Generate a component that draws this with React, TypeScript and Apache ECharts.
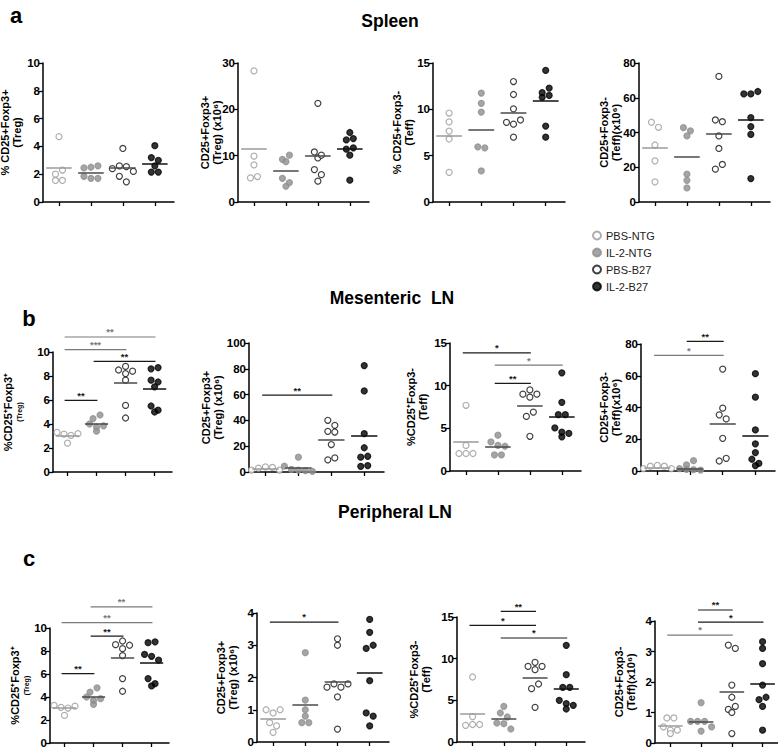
import React, { useEffect, useRef } from "react";
import * as echarts from "echarts";

const groups = ["PBS-NTG", "IL-2-NTG", "PBS-B27", "IL-2-B27"];

// ---- a: Spleen ----
const spleenTregPct = [
  [4.7, 2.0, 2.3, 1.55, 1.55],
  [2.45, 2.5, 2.6, 1.85, 1.7, 1.7],
  [3.85, 2.4, 2.6, 2.55, 2.2, 1.85, 1.45],
  [4.05, 3.2, 3.0, 2.6, 2.15, 2.15],
];
const spleenTregPctMean = [2.45, 2.12, 2.45, 2.77];

const spleenTregNum = [
  [28.3, 9.9, 8.0, 5.2, 5.5],
  [9.2, 8.7, 10.1, 5.1, 3.4, 4.2],
  [21.3, 10.8, 9.5, 10.1, 7.0, 5.9, 4.5],
  [15.0, 13.4, 13.7, 11.4, 11.7, 10.1, 4.7],
];
const spleenTregNumMean = [11.4, 6.7, 9.9, 11.4];

const spleenTeffPct = [
  [9.6, 8.65, 7.65, 6.8, 3.2],
  [11.75, 10.65, 9.7, 5.95, 5.85, 3.35],
  [13.0, 11.6, 10.05, 8.6, 8.4, 8.85, 7.0],
  [14.2, 11.8, 12.3, 11.3, 11.5, 8.2, 7.0],
];
const spleenTeffPctMean = [7.15, 7.84, 9.65, 10.9];

const spleenTeffNum = [
  [45.9, 43.0, 32.8, 23.7, 11.6],
  [42.8, 41.0, 38.0, 16.0, 12.5, 8.1],
  [72.3, 47.2, 46.2, 38.0, 30.8, 18.9, 21.6],
  [62.2, 62.2, 63.6, 48.6, 43.4, 38.9, 13.5],
];
const spleenTeffNumMean = [31.2, 26.0, 39.5, 47.2];

// ---- b: Mesenteric LN ----
const mlnTregPct = [
  [3.3, 3.15, 3.05, 3.2, 2.4],
  [4.0, 4.45, 4.75, 3.75, 3.85, 3.4],
  [8.5, 8.8, 8.4, 8.2, 7.65, 5.55, 4.5],
  [8.6, 8.7, 7.65, 7.5, 7.1, 5.5, 5.15, 5.0],
];
const mlnTregPctMean = [3.05, 4.05, 7.4, 6.95];
const mlnTregPctSig = [
  [1, 4, 11.25, "**", "gray"],
  [1, 3, 10.2, "***", "gray"],
  [2, 4, 9.22, "**", "dark"],
  [1, 2, 5.97, "**", "dark"],
];

const mlnTregNum = [
  [1.5, 3.0, 4.0, 3.5, 1.5],
  [11.5, 4.5, 2.0, 1.5, 1.0, 0.5],
  [40.1, 36.2, 31.5, 31.0, 21.3, 9.4, 10.9],
  [82.5, 62.8, 29.7, 18.8, 11.5, 12.2, 4.4, 5.0],
];
const mlnTregNumMean = [2.7, 3.1, 25.3, 27.9];
const mlnTregNumSig = [[1, 3, 59.6, "**", "dark"]];

const mlnTeffPct = [
  [7.7, 3.0, 2.05, 2.05, 2.05],
  [4.2, 3.4, 3.0, 2.9, 1.9, 1.9],
  [9.0, 9.5, 9.0, 8.65, 6.4, 6.9, 4.07],
  [11.5, 8.05, 6.6, 6.6, 5.05, 4.55, 4.4, 4.0],
];
const mlnTeffPctMean = [3.4, 2.8, 7.65, 6.3];
const mlnTeffPctSig = [
  [1, 3, 13.84, "*", "dark"],
  [2, 4, 12.4, "*", "gray"],
  [2, 3, 10.27, "**", "dark"],
];

const mlnTeffNum = [
  [1.5, 3.0, 3.5, 3.0, 1.5],
  [3.8, 6.5, 1.5, 1.0, 0.8, 0.6],
  [64.2, 39.6, 35.4, 32.8, 20.6, 6.3, 8.0],
  [61.3, 46.5, 25.9, 17.1, 11.6, 7.4, 3.4, 4.8],
];
const mlnTeffNumMean = [2.3, 1.7, 29.7, 22.1];
const mlnTeffNumSig = [
  [2, 3, 81.7, "**", "dark"],
  [1, 3, 72.8, "*", "gray"],
];

// ---- c: Peripheral LN ----
const plnTregPct = [
  [3.27, 3.1, 3.04, 3.2, 2.4],
  [4.0, 4.43, 4.8, 3.7, 3.85, 3.36],
  [8.55, 8.87, 8.5, 8.2, 7.6, 5.6, 4.5],
  [8.72, 8.8, 7.7, 7.54, 7.2, 5.6, 5.16, 4.96],
];
const plnTregPctMean = [3.04, 4.0, 7.4, 6.95];
const plnTregPctSig = [
  [2, 4, 11.83, "**", "gray"],
  [1, 4, 10.46, "**", "gray"],
  [2, 3, 9.3, "**", "dark"],
  [1, 2, 6.03, "**", "dark"],
];

const plnTregNum = [
  [1.0, 0.9, 1.0, 0.6, 0.5, 0.3],
  [2.77, 1.3, 1.0, 0.8, 0.6, 0.6],
  [3.2, 3.0, 1.7, 1.8, 1.7, 1.8, 1.4, 0.4],
  [3.8, 3.4, 2.9, 3.0, 1.9, 0.9, 0.8, 0.5],
];
const plnTregNumMean = [0.72, 1.17, 1.86, 2.15];
const plnTregNumSig = [[1, 3, 3.72, "*", "dark"]];

const plnTeffPct = [
  [7.8, 3.05, 2.0, 2.1, 2.1],
  [4.28, 3.48, 3.0, 2.28, 2.2, 1.56],
  [9.08, 9.56, 9.08, 8.68, 6.4, 6.96, 4.16],
  [11.6, 8.08, 6.56, 6.56, 5.0, 4.6, 4.4, 3.96],
];
const plnTeffPctMean = [3.4, 2.76, 7.72, 6.36];
const plnTeffPctSig = [
  [2, 3, 15.68, "**", "dark"],
  [1, 3, 14.0, "*", "dark"],
  [2, 4, 12.48, "*", "dark"],
];

const plnTeffNum = [
  [0.82, 0.82, 0.53, 0.42, 0.42, 0.31],
  [1.32, 0.71, 0.71, 0.71, 0.39, 0.53],
  [3.21, 3.1, 1.9, 1.5, 1.1, 1.2, 1.0, 0.31],
  [3.32, 3.1, 2.6, 1.9, 1.42, 1.5, 1.2, 0.42],
];
const plnTeffNumMean = [0.56, 0.71, 1.68, 1.93];
const plnTeffNumSig = [
  [2, 3, 4.36, "**", "dark"],
  [2, 4, 3.96, "*", "dark"],
  [1, 3, 3.54, "*", "gray"],
];

const FONT = 'Arial, "Liberation Sans", sans-serif';

const panels = [
  { values: spleenTregPct, means: spleenTregPctMean, sig: [], left: 43, top: 63, width: 131, height: 139, max: 10, interval: 2, name: "% CD25+Foxp3+\n(Treg)", nameGap: 20 },
  { values: spleenTregNum, means: spleenTregNumMean, sig: [], left: 238, top: 63, width: 131, height: 139, max: 30, interval: 10, name: "CD25+Foxp3+\n(Treg) (x10⁶)", nameGap: 15 },
  { values: spleenTeffPct, means: spleenTeffPctMean, sig: [], left: 433, top: 63, width: 132, height: 139, max: 15, interval: 5, name: "% CD25+Foxp3-\n(Teff)", nameGap: 18 },
  { values: spleenTeffNum, means: spleenTeffNumMean, sig: [], left: 639, top: 63, width: 131, height: 139, max: 80, interval: 20, name: "CD25+Foxp3-\n(Teff)(x10⁶)", nameGap: 17 },
  { values: mlnTregPct, means: mlnTregPctMean, sig: mlnTregPctSig, left: 53, top: 352, width: 119, height: 120, max: 10, interval: 2, name: "%CD25⁺Foxp3⁺\n{s|(Treg)}", nameGap: 29 },
  { values: mlnTregNum, means: mlnTregNumMean, sig: mlnTregNumSig, left: 249, top: 343, width: 135, height: 129, max: 100, interval: 20, name: "CD25+Foxp3+\n(Treg) (x10⁶)", nameGap: 25 },
  { values: mlnTeffPct, means: mlnTeffPctMean, sig: mlnTeffPctSig, left: 450, top: 343, width: 131, height: 128, max: 15, interval: 5, name: "%CD25⁺Foxp3-\n(Teff)", nameGap: 21 },
  { values: mlnTeffNum, means: mlnTeffNumMean, sig: mlnTeffNumSig, left: 641, top: 344, width: 134, height: 127, max: 80, interval: 20, name: "CD25+Foxp3-\n(Teff)(x10⁶)", nameGap: 19 },
  { values: plnTregPct, means: plnTregPctMean, sig: plnTregPctSig, left: 50, top: 628, width: 119, height: 115, max: 10, interval: 2, name: "%CD25⁺Foxp3⁺\n{s|(Treg)}", nameGap: 19 },
  { values: plnTregNum, means: plnTregNumMean, sig: plnTregNumSig, left: 257, top: 613, width: 132, height: 129, max: 4, interval: 1, name: "CD25+Foxp3+\n(Treg) (x10⁶)", nameGap: 18 },
  { values: plnTeffPct, means: plnTeffPctMean, sig: plnTeffPctSig, left: 457, top: 617, width: 128, height: 125, max: 15, interval: 5, name: "%CD25⁺Foxp3-\n(Teff)", nameGap: 25 },
  { values: plnTeffNum, means: plnTeffNumMean, sig: plnTeffNumSig, left: 655, top: 621, width: 126, height: 122, max: 4, interval: 1, name: "CD25+Foxp3-\n(Teff)(x10⁶)", nameGap: 18 },
];

const X_MIN = 0.5;
const X_MAX = 4.6;

const groupStyle = [
  { color: "#ffffff", borderColor: "#9a9a9a", borderWidth: 1.2 },
  { color: "#8f8f8f", borderColor: "#8f8f8f", borderWidth: 1.2 },
  { color: "#ffffff", borderColor: "#111111", borderWidth: 1.2 },
  { color: "#000000", borderColor: "#000000", borderWidth: 1.2 },
];
const meanColor = ["#9a9a9a", "#4a4a4a", "#4a4a4a", "#111111"];
const toneColor: Record<string, string> = { dark: "#1a1a1a", gray: "#7a7a7a" };

// Prism-like row layout: points with nearby values share a row, spread around centre
function swarmOffsets(vals: number[], pxPerUnit: number, pxPerGroup: number, d = 7, thr = 6) {
  const idx = vals.map((_, i) => i).sort((a, b) => vals[b] - vals[a]);
  const rows: number[][] = [];
  let cur: number[] = [];
  let startY = 0;
  for (const i of idx) {
    const y = vals[i] * pxPerUnit;
    if (cur.length && startY - y < thr) cur.push(i);
    else {
      if (cur.length) rows.push(cur);
      cur = [i];
      startY = y;
    }
  }
  if (cur.length) rows.push(cur);
  const off = new Array(vals.length).fill(0);
  for (const r of rows) {
    r.sort((a, b) => a - b);
    r.forEach((i, k) => {
      off[i] = ((k - (r.length - 1) / 2) * d) / pxPerGroup;
    });
  }
  return off;
}

function buildOption() {
  const grid: any[] = [];
  const xAxis: any[] = [];
  const yAxis: any[] = [];
  const series: any[] = [];

  panels.forEach((p, pi) => {
    grid.push({ left: p.left, top: p.top, width: p.width, height: p.height, containLabel: false, outerBoundsMode: "none" });
    xAxis.push({
      type: "value",
      gridIndex: pi,
      min: X_MIN,
      max: X_MAX,
      axisLine: { show: true, onZero: false, lineStyle: { color: "#000", width: 1.5 } },
      axisTick: { show: true, length: 4, customValues: [1, 2, 3, 4], lineStyle: { color: "#000", width: 1.3 } },
      axisLabel: { show: false },
      splitLine: { show: false },
    });
    yAxis.push({
      type: "value",
      gridIndex: pi,
      min: 0,
      max: p.max,
      interval: p.interval,
      axisLine: { show: true, lineStyle: { color: "#000", width: 1.5 } },
      axisTick: { show: true, length: 4, lineStyle: { color: "#000", width: 1.3 } },
      axisLabel: { color: "#000", fontWeight: "bold", fontSize: 11.5, fontFamily: FONT, margin: 3 },
      splitLine: { show: false },
      name: p.name,
      nameLocation: "middle",
      nameGap: p.nameGap,
      nameMoveOverlap: false,
      nameTextStyle: {
        color: "#000",
        fontWeight: "bold",
        fontSize: 11,
        fontFamily: FONT,
        lineHeight: 12,
        rich: { s: { fontSize: 7, fontWeight: "bold", fontFamily: FONT, lineHeight: 10, color: "#000" } },
      },
    });

    const pxPerUnit = p.height / p.max;
    const pxPerGroup = p.width / (X_MAX - X_MIN);

    p.values.forEach((vals, g) => {
      const off = swarmOffsets(vals, pxPerUnit, pxPerGroup);
      series.push({
        type: "scatter",
        name: groups[g],
        xAxisIndex: pi,
        yAxisIndex: pi,
        symbol: "circle",
        symbolSize: 6,
        itemStyle: groupStyle[g],
        silent: true,
        data: vals.map((v, i) => [g + 1 + off[i], v]),
        markLine: {
          silent: true,
          symbol: ["none", "none"],
          label: { show: false },
          lineStyle: { color: meanColor[g], width: 1.5, type: "solid" },
          emphasis: { disabled: true },
          data: [[{ coord: [g + 1 - 0.4, p.means[g]] }, { coord: [g + 1 + 0.4, p.means[g]] }]],
        },
      });
    });

    (p.sig as any[]).forEach((b, bi) => {
      const [from, to, y, label, tone] = b;
      const x1 = from - 0.1;
      const x2 = to + 0.03;
      const col = toneColor[tone];
      series.push({
        type: "line",
        name: "sig-" + pi + "-" + bi,
        xAxisIndex: pi,
        yAxisIndex: pi,
        clip: false,
        symbol: "none",
        silent: true,
        color: col,
        lineStyle: { color: col, width: 1.2 },
        data: [
          [x1, y],
          [x2, y],
        ],
      });
      series.push({
        type: "scatter",
        name: "star-" + pi + "-" + bi,
        xAxisIndex: pi,
        yAxisIndex: pi,
        clip: false,
        symbolSize: 0.1,
        silent: true,
        color: col,
        itemStyle: { color: col, opacity: 0 },
        data: [{ value: [(x1 + x2) / 2, y], name: label }],
        label: {
          show: true,
          position: "top",
          distance: 0,
          formatter: "{b}",
          fontSize: 9.5,
          fontWeight: "bold",
          fontFamily: FONT,
          color: col,
          opacity: 1,
          textBorderWidth: 0,
        },
      });
    });
  });

  const titleText = (text: string, x: number, y: number, size: number) => ({
    type: "text",
    x,
    y,
    silent: true,
    style: {
      text,
      fill: "#000",
      font: `bold ${size}px ${FONT}`,
      align: "center",
      verticalAlign: "middle",
      textAlign: "center",
      textVerticalAlign: "middle",
    },
  });

  return {
    animation: false,
    backgroundColor: "#ffffff",
    grid,
    xAxis,
    yAxis,
    series,
    legend: {
      data: groups,
      orient: "vertical",
      left: 587,
      top: 224,
      itemWidth: 8,
      itemHeight: 8,
      itemGap: 4,
      icon: "circle",
      selectedMode: false,
      textStyle: { fontSize: 11, fontFamily: FONT, color: "#222", lineHeight: 13 },
    },
    graphic: [
      titleText("Spleen", 390, 21, 17.5),
      titleText("Mesenteric  LN", 392, 298, 17.5),
      titleText("Peripheral LN", 395, 512, 17.5),
      titleText("a", 16, 15, 22),
      titleText("b", 29, 318, 22),
      titleText("c", 29, 558, 22),
    ],
  };
}

export default function App() {
  const ref = useRef<HTMLDivElement>(null);
  useEffect(() => {
    if (!ref.current) return;
    const chart = echarts.init(ref.current, null, { renderer: "svg" });
    chart.setOption(buildOption() as any);
    return () => chart.dispose();
  }, []);
  return <div ref={ref} style={{ position: "absolute", left: 0, top: 0, width: 778, height: 747 }} />;
}
